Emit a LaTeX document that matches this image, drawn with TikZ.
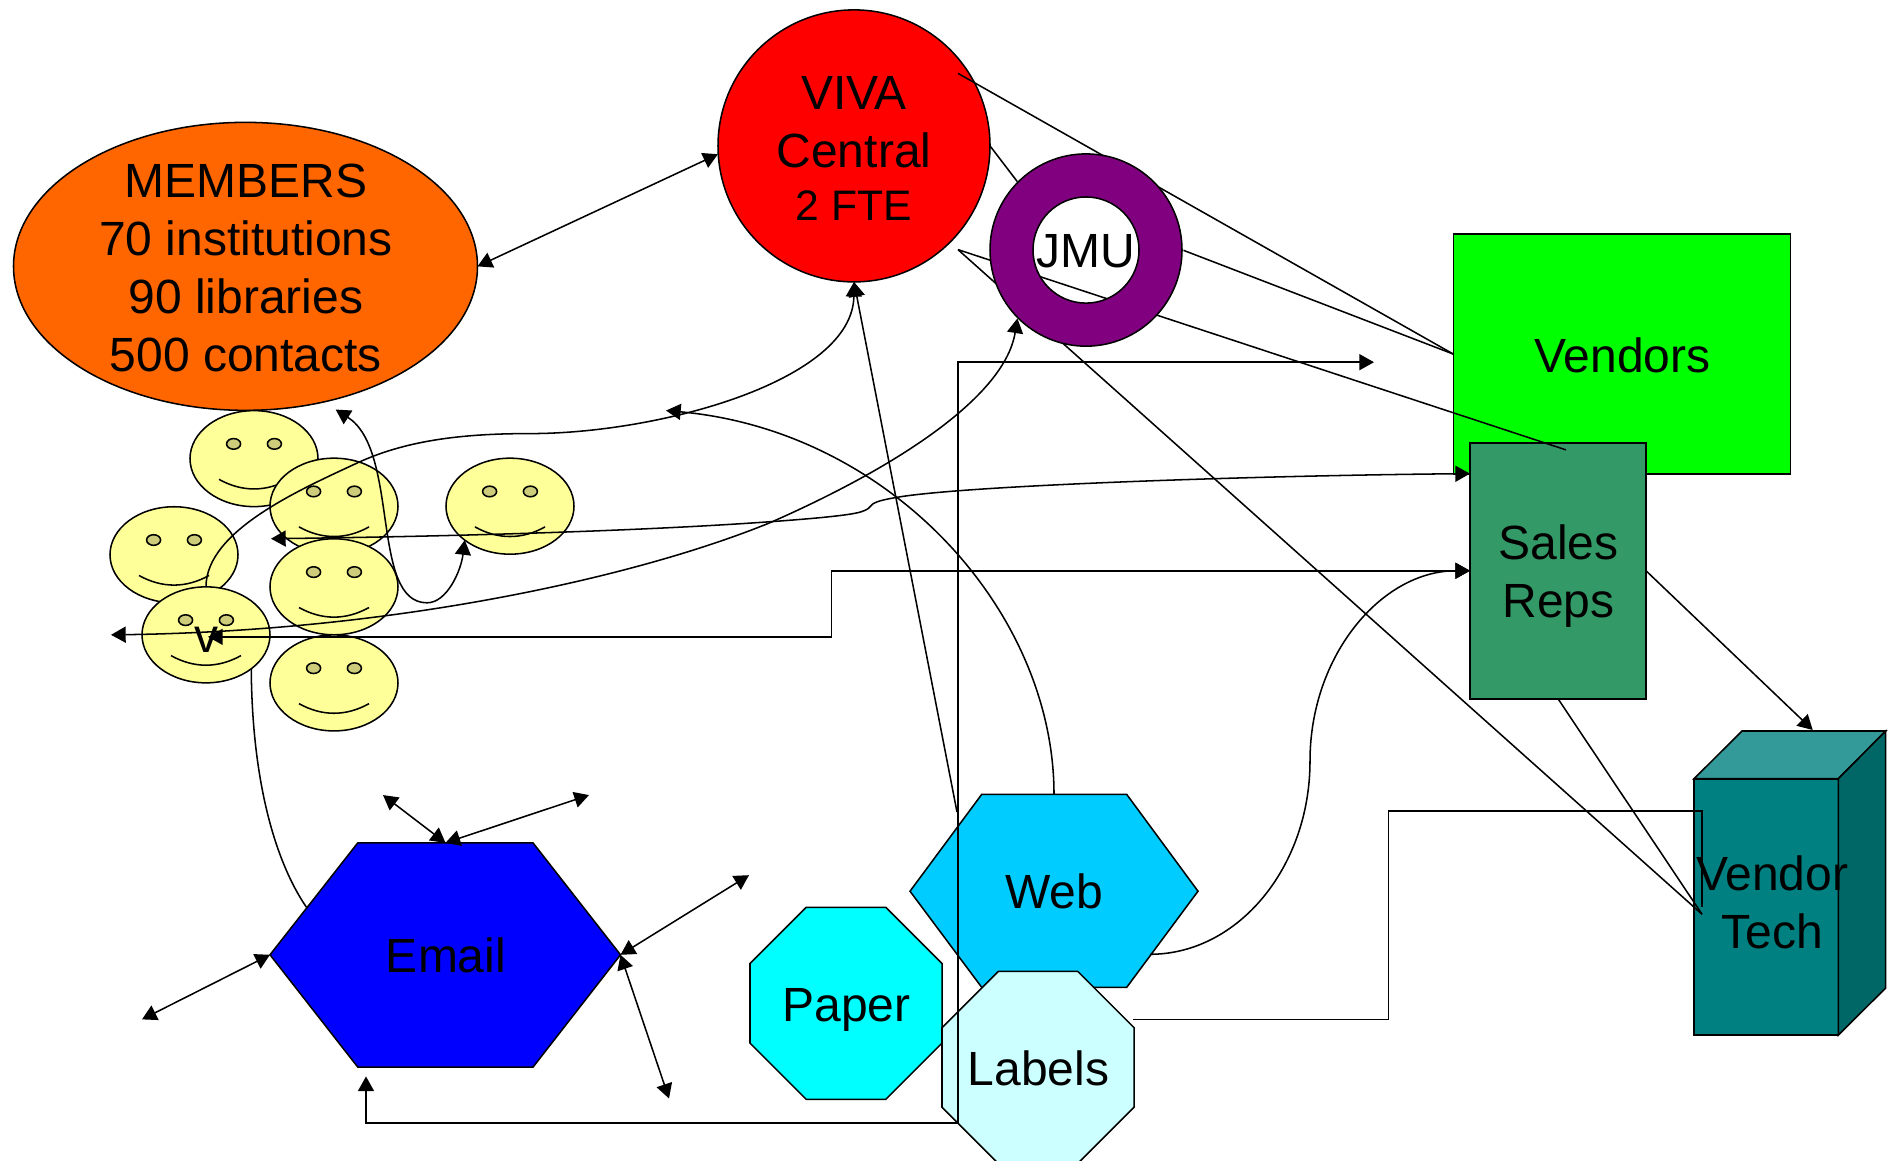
\documentclass[tikz,border=0pt]{standalone}
\usepackage{fontspec}
\setmainfont{Liberation Sans}
\usetikzlibrary{arrows.meta,shapes.geometric}

\definecolor{memberfill}{RGB}{255,102,0}
\definecolor{salesfill}{RGB}{51,153,102}
\definecolor{webfill}{RGB}{0,204,255}
\definecolor{paperfill}{RGB}{0,255,255}
\definecolor{labelfill}{RGB}{204,255,255}
\definecolor{facefill}{RGB}{255,255,153}
\definecolor{eyefill}{RGB}{204,204,122}
\definecolor{ringfill}{RGB}{128,0,128}
\definecolor{techfront}{RGB}{0,128,128}
\definecolor{techtop}{RGB}{51,153,153}
\definecolor{techside}{RGB}{0,102,102}

\tikzset{
  wire/.style={line width=1.15pt},
  bothtip/.style={wire,{Triangle[length=11pt,width=12pt]}-{Triangle[length=11pt,width=12pt]}},
  endtip/.style={wire,-{Triangle[length=11pt,width=12pt]}},
  shapeline/.style={draw=black,line width=1.15pt,inner sep=0pt,outer sep=0pt},
  bigtext/.style={font=\fontsize{36}{43.5}\selectfont,align=center,inner sep=0pt},
  octa/.style={shapeline,regular polygon,regular polygon sides=8,minimum size=155.9pt},
  smiley/.style={shapeline,ellipse,fill=facefill,minimum width=96pt,minimum height=72pt}
}

\newcommand{\smileyface}[3]{
  \node[smiley] (#1) at (#2,#3) {};
  \begin{scope}[shift={(#2,#3)}]
    \draw[wire,fill=eyefill] (-20.4,-14.7) ellipse [x radius=7,y radius=5.3];
    \draw[wire,fill=eyefill] (20.4,-14.7) ellipse [x radius=7,y radius=5.3];
    \draw[wire] (-35,20.7) .. controls (-12,33.5) and (12,33.5) .. (35,20.7);
  \end{scope}
}

\begin{document}
\begin{tikzpicture}[x=0.75pt,y=0.751pt,yscale=-1,xscale=1]
\useasboundingbox (0,0) rectangle (1895,1158.46);

%Free ends of the connectors
\coordinate (vivatop) at (958,73.3);
\coordinate (vivalow) at (958,249.3);
\coordinate (salestop) at (1566,449.3);
\coordinate (techend) at (1702,913);
\coordinate (salesin) at (1470,473);
\coordinate (membertip) at (335.7,409);
\coordinate (facetip) at (271,538);
\coordinate (leftend) at (208,636);
\coordinate (farleft) at (111,634);
\coordinate (webleft) at (957,811);
\coordinate (webtip) at (666,410);
\coordinate (webside) at (1150,953);
\coordinate (labeljoin) at (958,1121.7);
\coordinate (midtip) at (1374,361.7);
\coordinate (emailtip) at (366,1075);
\coordinate (labelout) at (1133,1018);
\coordinate (techstop) at (1702,906);
\coordinate (emailnorth) at (445.5,841.7);
\coordinate (emaileast) at (620.5,953.5);
\coordinate (emailwest) at (270,953.5);
\coordinate (emailfoot) at (306.4,906);
\coordinate (outa) at (383,794);
\coordinate (outb) at (589,794);
\coordinate (outc) at (749,874);
\coordinate (outd) at (669,1097);
\coordinate (oute) at (142,1018);

%Shape: Ellipse members and circle central
\node[shapeline,ellipse,fill=memberfill,minimum width=348pt,minimum height=216pt] (members) at (245.5,266) {};
\node[bigtext] (memberstext) at (245.8,268) {MEMBERS\\70 institutions\\90 libraries\\500 contacts};
\node[shapeline,circle,fill=red,minimum size=204pt] (viva) at (854,145.7) {};
\node[bigtext] (vivatext) at (854,148) {VIVA\\Central\\[-3.6pt]{\fontsize{32}{38}\selectfont 2 FTE}};

%Shape: Boxes on the right
\node[shapeline,fill=green,minimum width=252.75pt,minimum height=180pt] (vendors) at (1622,353.7) {};
\node[bigtext] (vendorstext) at (1622.5,354.5) {Vendors};
\node[shapeline,fill=salesfill,minimum width=132pt,minimum height=192pt] (sales) at (1558,570) {};
\node[bigtext] (salestext) at (1558.5,575) {Sales\\Reps};

%Shape: Cube
\draw[wire,fill=techfront] (1694,777.7) rectangle (1838.3,1033.7);
\draw[wire,fill=techtop] (1694,777.7) -- (1742,730) -- (1885.7,730) -- (1838.3,777.7) -- cycle;
\draw[wire,fill=techside] (1838.3,777.7) -- (1885.7,730) -- (1885.7,986.7) -- (1838.3,1033.7) -- cycle;
\node[bigtext] (techtext) at (1772.2,901) {Vendor\\Tech};

%Straight Lines
\draw[wire] (vivatop) -- (vendors.west);
\draw[wire] (viva.east) -- (1017.4,181.5);
\draw[wire] (1183.5,250) -- (vendors.west);
\draw[wire] (vivalow) -- (salestop);
\draw[wire] (vivalow) -- (techend);
\draw[wire] (sales.south) -- (techend);

%Shape: Ring
\coordinate (jmuwest) at (1017.4,318);
\draw[wire,fill=ringfill,even odd rule] (1086,249.7) circle [radius=96] (1086,249.7) circle [radius=53];
\node[bigtext] (jmu) at (1085.6,250.7) {JMU};

%Shape: Faces
\smileyface{faceA}{254}{458}
\smileyface{faceB}{334}{505.5}
\smileyface{faceC}{510}{505.5}
\smileyface{faceD}{174}{554}
\smileyface{faceE}{334}{586}
\smileyface{faceF}{206}{634}
\smileyface{faceG}{334}{682}
\node[bigtext] (facetext) at (206,639) {v};

%Curves around the faces
\draw[endtip] (faceF.north) .. controls (206,530) and (300,489) .. (358,462) .. controls (410,438) and (470,433) .. (530,433) .. controls (660,433) and (853,380) .. (viva.south);
\draw[bothtip] (membertip) .. controls (400,450) and (370,602) .. (427,602) .. controls (447,602) and (461,570) .. (faceC.south west);
\draw[bothtip] (salesin) .. controls (1250,475) and (960,485) .. (895,497) .. controls (878,500) and (873,502) .. (870,506) .. controls (866,512) and (850,514) .. (820,517) .. controls (700,528) and (500,535) .. (facetip);
\draw[bothtip] (jmuwest) .. controls (1005,395) and (900,465) .. (770,522) .. controls (640,575) and (400,630) .. (farleft);
\draw[bothtip] (sales.west) -- (831.5,570) -- (831.5,636) -- (leftend);
\draw[wire] (faceF.south east) .. controls (252,780) and (275,860) .. (emailfoot);

%Shape: Hexagons and octagons
\draw[wire,fill=blue] (emailwest) -- (357.8,841.7) -- (533,841.7) -- (emaileast) -- (533,1065.7) -- (357.8,1065.7) -- cycle;
\node[bigtext] (email) at (446,954) {Email};
\draw[wire,fill=webfill] (910,890) -- (981.7,793.3) -- (1126.7,793.3) -- (1198,890) -- (1126.7,986) -- (981.7,986) -- cycle;
\node[bigtext] (web) at (1054,890.5) {Web};
\coordinate (webtop) at (1054,793.3);
\node[octa,fill=paperfill] (paper) at (846,1002) {};
\node[bigtext] (papertext) at (846.5,1009) {Paper};
\node[octa,fill=labelfill] (labels) at (1038,1066) {};
\node[bigtext] (labelstext) at (1038.5,1067) {Labels};

%Curves from the web
\draw[endtip] (webleft) -- (viva.south);
\draw[endtip] (webtop) .. controls (1054,610) and (890,430) .. (webtip);
\draw[endtip] (webside) .. controls (1238,953) and (1310,866) .. (1310,760) .. controls (1310,654) and (1382,570) .. (sales.west);
\draw[endtip] (sales.east) -- (1812.7,729);

%Elbows
\draw[bothtip] (midtip) -- (958,361.7) -- (labeljoin) -- (366,1121.7) -- (emailtip);
\draw[wire] (labelout) -- (1388.7,1018) -- (1388.7,810) -- (1702,810) -- (techstop);

%Arrows around email
\draw[bothtip] (members.east) -- (717.9,154);
\draw[bothtip] (outa) -- (emailnorth);
\draw[bothtip] (outb) -- (emailnorth);
\draw[bothtip] (outc) -- (emaileast);
\draw[bothtip] (outd) -- (emaileast);
\draw[bothtip] (oute) -- (emailwest);
\end{tikzpicture}
\end{document}
